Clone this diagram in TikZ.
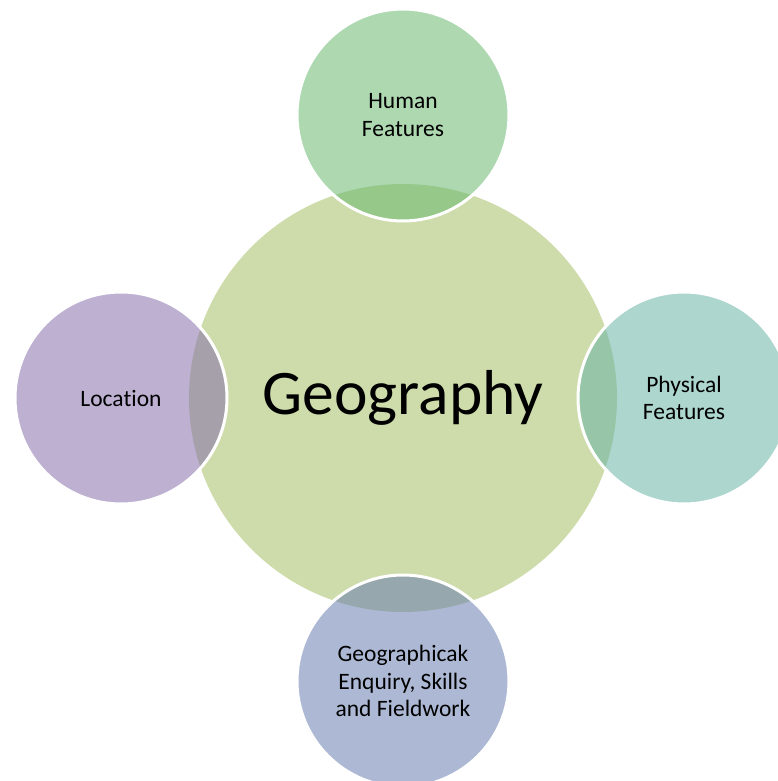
\documentclass[tikz,border=0pt]{standalone}
\usepackage{fontspec}
\setmainfont[Ligatures=NoCommon]{Carlito}
\usepackage{tikz}

\definecolor{hubgreen}{RGB}{205,220,170}
\definecolor{humancol}{RGB}{105,184,111}
\definecolor{physcol}{RGB}{105,180,166}
\definecolor{enqcol}{RGB}{105,127,176}
\definecolor{loccol}{RGB}{135,111,171}

\begin{document}
\begin{tikzpicture}[x=1pt,y=-1pt,
	hub/.style={circle,fill=hubgreen,minimum size=428pt,inner sep=0pt,
		font=\fontsize{63.5}{70}\selectfont},
	spoke/.style={circle,fill=#1,fill opacity=0.55,text opacity=1,draw=white,
		draw opacity=1,line width=3pt,minimum size=212pt,inner sep=0pt,
		align=center,font=\fontsize{23.5}{27.5}\selectfont}]
	\useasboundingbox (0,0) rectangle (778,781);
	\node[hub] (geo) at (403,398) {Geography};
	\node[spoke=humancol] (human) at (403,115) {Human\\Features};
	\node[spoke=physcol] (phys) at (684,398) {Physical\\Features};
	\node[spoke=enqcol] (enq) at (403,681) {Geographicak\\Enquiry, Skills\\and Fieldwork};
	\node[spoke=loccol] (loc) at (121,398) {Location};
\end{tikzpicture}
\end{document}
